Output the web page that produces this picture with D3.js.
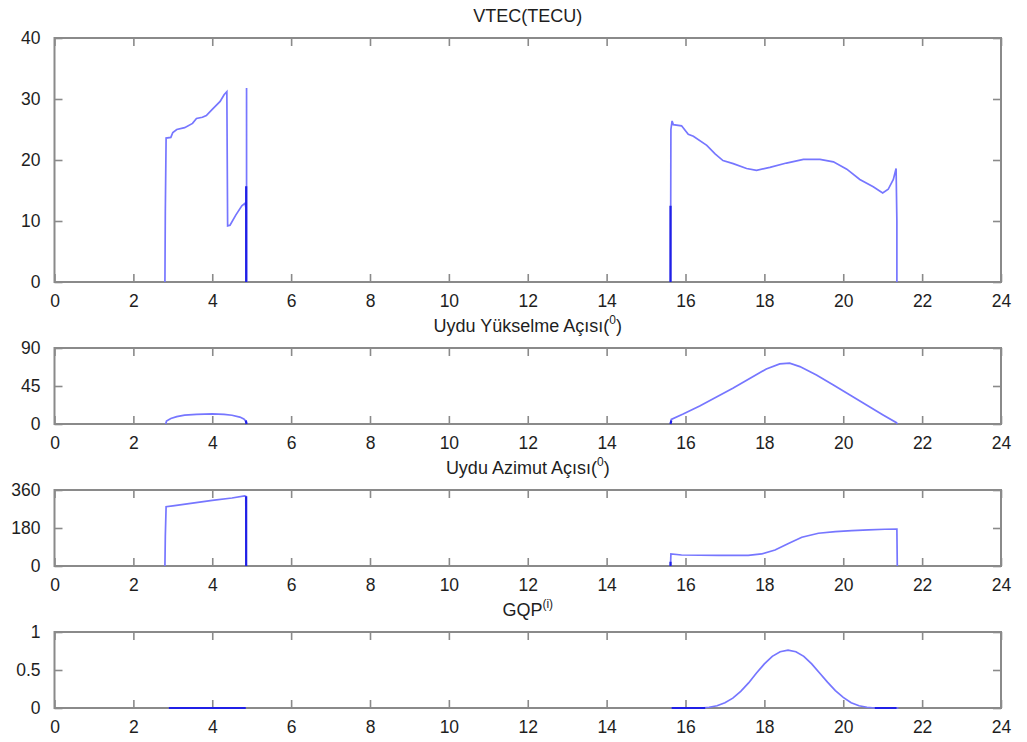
<!DOCTYPE html>
<html>
<head>
<meta charset="utf-8">
<script src="https://cdn.jsdelivr.net/npm/d3@7"></script>
<style>
  body { margin: 0; background: #fff; }
  text { font-family: "Liberation Sans", Arial, sans-serif; fill: #1e1e1e; }
</style>
</head>
<body>
<div id="vis"></div>
<script>
const FRAME_WIDTH = 1027;
const FRAME_HEIGHT = 742;
const LEFT = 54.5, RIGHT = 1001;

// hours of day, shared x ticks
const xTicks = [0, 2, 4, 6, 8, 10, 12, 14, 16, 18, 20, 22, 24];

// VTEC (TECU) - null splits the line
const vtecHours = [2.80, 2.81, 2.83, 2.95, 3.0, 3.1, 3.3, 3.5, 3.6, 3.75, 3.85, 4.0, 4.2, 4.3, 4.37, 4.39, 4.45, 4.6, 4.75, 4.83, 4.86, 4.87, 4.87, null,
  15.62, 15.63, 15.66, 15.69, 15.9, 16.07, 16.2, 16.54, 16.75, 16.95, 17.21, 17.55, 17.8, 18.14, 18.56, 18.99, 19.41, 19.75, 20.09, 20.42, 20.76, 21.0, 21.14, 21.27, 21.34, 21.36, 21.36];
const vtecValues = [0, 11.5, 23.6, 23.7, 24.5, 25.0, 25.3, 26.0, 26.8, 27.0, 27.3, 28.3, 29.6, 30.7, 31.2, 9.2, 9.3, 11.0, 12.5, 12.9, 12.0, 0, 31.8, null,
  0, 25.0, 26.4, 25.8, 25.6, 24.2, 23.9, 22.4, 21.0, 19.9, 19.4, 18.6, 18.3, 18.8, 19.5, 20.1, 20.1, 19.7, 18.5, 16.8, 15.6, 14.6, 15.2, 16.8, 18.6, 10.0, 0];
const vtecDarkHours = [4.86, 4.86, null, 15.62, 15.62];
const vtecDarkValues = [0, 15.7, null, 0, 12.5];

// satellite elevation (deg)
const elevHours = [2.82, 2.84, 2.95, 3.1, 3.3, 3.6, 4.0, 4.3, 4.5, 4.7, 4.8, 4.86, 4.87, null,
  15.62, 15.64, 15.94, 16.36, 17.2, 18.05, 18.39, 18.64, 18.9, 19.32, 19.75, 20.17, 20.59, 21.01, 21.35, 21.37];
const elevValues = [0, 3.5, 6.5, 8.8, 10.4, 11.5, 11.9, 11.4, 10.4, 8.2, 6.0, 3.0, 0, null,
  0.8, 5.5, 11.8, 21.3, 42.3, 65.2, 71.2, 72.0, 68.0, 58.0, 46.3, 34.4, 22.5, 10.7, 1.6, 0];
const elevDarkHours = [4.85, 4.87, null, 15.62, 15.64];
const elevDarkValues = [4, 0, null, 0, 4];

// satellite azimuth (deg)
const azimHours = [2.80, 2.81, 2.83, 3.0, 3.5, 4.0, 4.5, 4.82, 4.85, 4.86, null,
  15.62, 15.63, 15.9, 16.83, 17.59, 17.93, 18.27, 18.61, 18.95, 19.37, 19.8, 20.22, 20.64, 21.06, 21.36, 21.37];
const azimValues = [0, 140, 281, 285, 298, 311, 322, 332, 330, 0, null,
  0, 57, 52, 50, 50, 57, 76, 107, 136, 155, 163, 168, 171, 174, 175, 0];
const azimDarkHours = [4.86, 4.86, null, 15.62, 15.62];
const azimDarkValues = [0, 330, null, 0, 20];

// GQP
const gqpHours = [2.9, 4.85, null, 15.65, 16.0, 16.4, 16.6, 16.8, 17.0, 17.2, 17.4, 17.6, 17.8, 18.0, 18.2, 18.4, 18.6,
  18.8, 19.0, 19.2, 19.4, 19.6, 19.8, 20.0, 20.2, 20.4, 20.6, 20.8, 21.0, 21.4];
const gqpValues = [0, 0, null, 0, 0, 0, 0.01, 0.03, 0.07, 0.13, 0.22, 0.33, 0.46, 0.58, 0.68, 0.74, 0.76,
  0.74, 0.68, 0.58, 0.46, 0.34, 0.23, 0.14, 0.07, 0.03, 0.01, 0, 0, 0];
const gqpDarkHours = [2.9, 4.85, null, 15.65, 16.5, null, 20.8, 21.35];
const gqpDarkValues = [0, 0, null, 0, 0, null, 0, 0];

const FRAME = d3.select("#vis")
  .append("svg")
    .attr("width", FRAME_WIDTH)
    .attr("height", FRAME_HEIGHT);

const X_SCALE = d3.scaleLinear().domain([0, 24]).range([LEFT, RIGHT]);

const panels = [
  {top: 38, bottom: 282, yTicks: [0, 10, 20, 30, 40], title: ["VTEC(TECU)"],
   hours: vtecHours, values: vtecValues, darkHours: vtecDarkHours, darkValues: vtecDarkValues},
  {top: 348, bottom: 424, yTicks: [0, 45, 90], title: ["Uydu Yükselme Açısı(", "0", ")"],
   hours: elevHours, values: elevValues, darkHours: elevDarkHours, darkValues: elevDarkValues},
  {top: 490, bottom: 566, yTicks: [0, 180, 360], title: ["Uydu Azimut Açısı(", "0", ")"],
   hours: azimHours, values: azimValues, darkHours: azimDarkHours, darkValues: azimDarkValues},
  {top: 632, bottom: 708, yTicks: [0, 0.5, 1], title: ["GQP", "(i)", ""],
   hours: gqpHours, values: gqpValues, darkHours: gqpDarkHours, darkValues: gqpDarkValues}
];

panels.forEach((p) => {
  const yMax = p.yTicks[p.yTicks.length - 1];
  const Y_SCALE = d3.scaleLinear().domain([0, yMax]).range([p.bottom, p.top]);
  const g = FRAME.append("g");

  // title, with optional superscript
  const t = g.append("text")
      .attr("x", (LEFT + RIGHT) / 2)
      .attr("y", p.top - 16)
      .attr("text-anchor", "middle")
      .attr("font-size", "18px");
  t.append("tspan").text(p.title[0]);
  if (p.title.length > 1) {
    t.append("tspan").attr("dy", -8).attr("font-size", "12px").text(p.title[1]);
    t.append("tspan").attr("dy", 8).text(p.title[2]);
  }

  // axes: inward ticks on all four sides, labels on left/bottom
  const axisStyle = (sel) => {
    sel.select(".domain").remove();
    sel.selectAll(".tick line").attr("stroke", "#8a8a8a").attr("stroke-width", 1.6);
    sel.selectAll(".tick text").attr("font-size", "17.5px").attr("fill", "#1e1e1e")
      .attr("font-family", "'Liberation Sans', Arial, sans-serif");
  };

  g.append("g")
      .attr("transform", "translate(0," + p.bottom + ")")
      .call(d3.axisBottom(X_SCALE).tickValues(xTicks).tickSize(-8).tickPadding(13).tickFormat(d3.format("d")))
      .call(axisStyle);
  g.append("g")
      .attr("transform", "translate(0," + p.top + ")")
      .call(d3.axisTop(X_SCALE).tickValues(xTicks).tickSize(-8).tickFormat(""))
      .call(axisStyle);
  g.append("g")
      .attr("transform", "translate(" + LEFT + ",0)")
      .call(d3.axisLeft(Y_SCALE).tickValues(p.yTicks).tickSize(-8).tickPadding(14).tickFormat((d) => String(d)))
      .call(axisStyle);
  g.append("g")
      .attr("transform", "translate(" + RIGHT + ",0)")
      .call(d3.axisRight(Y_SCALE).tickValues(p.yTicks).tickSize(-8).tickFormat(""))
      .call(axisStyle);

  // box
  g.append("rect")
      .attr("x", LEFT)
      .attr("y", p.top)
      .attr("width", RIGHT - LEFT)
      .attr("height", p.bottom - p.top)
      .attr("fill", "none")
      .attr("stroke", "#8a8a8a")
      .attr("stroke-width", 2);

  // lines, drawn over the box
  const line = d3.line()
      .defined((d) => d[1] !== null)
      .x((d) => X_SCALE(d[0]))
      .y((d) => Y_SCALE(d[1]));

  g.append("path")
      .datum(d3.zip(p.hours, p.values))
      .attr("d", line)
      .attr("fill", "none")
      .attr("stroke", "#7676ff")
      .attr("stroke-width", 1.7);

  g.append("path")
      .datum(d3.zip(p.darkHours, p.darkValues))
      .attr("d", line)
      .attr("fill", "none")
      .attr("stroke", "#2020e6")
      .attr("stroke-width", 2.2);
});
</script>
</body>
</html>
